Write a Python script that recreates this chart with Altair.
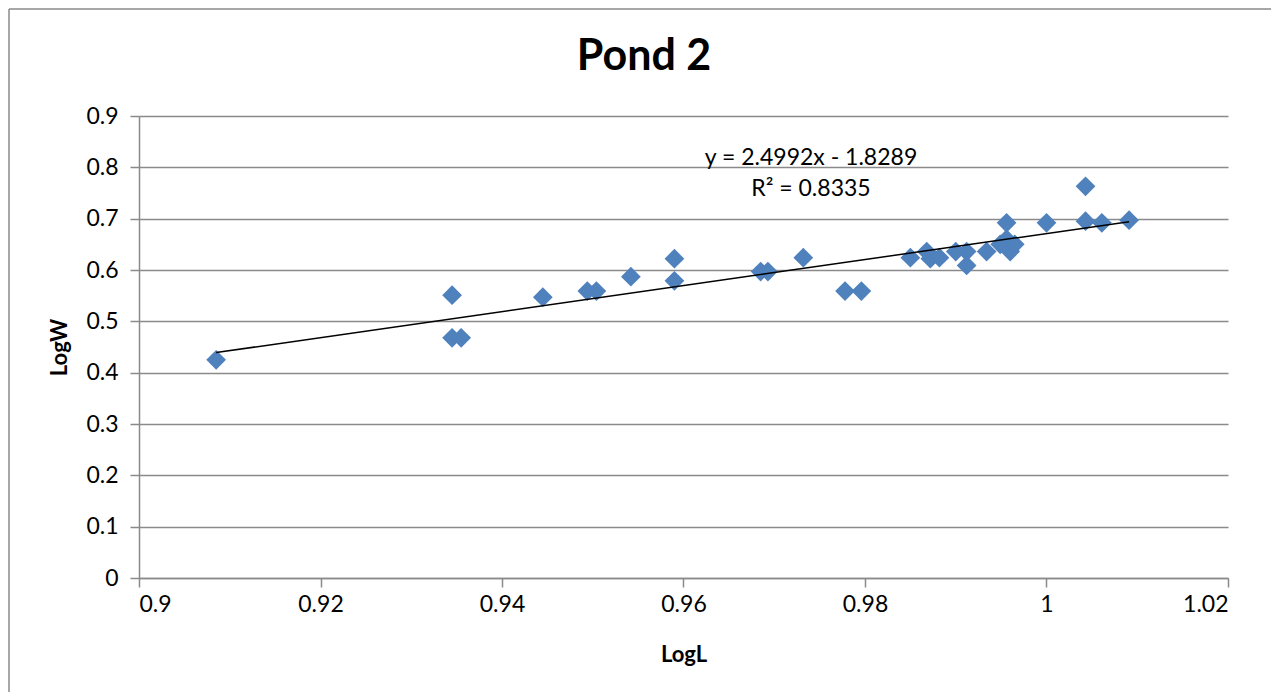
import altair as alt
import pandas as pd

log_l = [0.9085, 0.9345, 0.9345, 0.9355, 0.9445, 0.9494, 0.9504, 0.9542, 0.9590, 0.9590,
         0.9685, 0.9693, 0.9732, 0.9778, 0.9796, 0.9850, 0.9868, 0.9872, 0.9882, 0.9900,
         0.9912, 0.9912, 0.9934, 0.9949, 0.9956, 0.9956, 0.9960, 0.9965, 1.0000, 1.0043,
         1.0043, 1.0061, 1.0091]
log_w = [0.425, 0.551, 0.468, 0.468, 0.547, 0.559, 0.559, 0.587, 0.622, 0.579,
         0.597, 0.597, 0.624, 0.559, 0.559, 0.624, 0.636, 0.622, 0.624, 0.636,
         0.636, 0.609, 0.636, 0.650, 0.692, 0.660, 0.636, 0.650, 0.692, 0.763,
         0.695, 0.692, 0.697]

x_ticks = [0.9, 0.92, 0.94, 0.96, 0.98, 1.0, 1.02]
y_ticks = [0, 0.1, 0.2, 0.3, 0.4, 0.5, 0.6, 0.7, 0.8, 0.9]
chart_title = "Pond 2"
eq_line1 = "y = 2.4992x - 1.8289"
eq_line2 = "R² = 0.8335"

df = pd.DataFrame({"LogL": log_l, "LogW": log_w})

FONT = "Lato"
GRID = "#8a8a8a"

x_enc = alt.X("LogL:Q",
              scale=alt.Scale(domain=[0.9, 1.02], nice=False, zero=False),
              axis=alt.Axis(title="LogL", values=x_ticks, format="~g", grid=False,
                            tickSize=9, labelPadding=6, titleY=76,
                            titleBaseline="middle"))
y_enc = alt.Y("LogW:Q",
              scale=alt.Scale(domain=[0, 0.9], nice=False),
              axis=alt.Axis(title="LogW", values=y_ticks, format="~g", grid=True,
                            tickSize=9, labelPadding=12, titleX=-80, titleY=231,
                            titleAngle=-90, titleAlign="center",
                            titleBaseline="middle"))

points = alt.Chart(df).mark_point(shape="diamond", filled=True, size=390,
                                  color="#4F81BD", opacity=1).encode(x=x_enc, y=y_enc)

trend = alt.Chart(df).transform_regression("LogL", "LogW").mark_line(
    color="black", strokeWidth=1.5).encode(x="LogL:Q", y="LogW:Q")

one = df.head(1)
title_mark = alt.Chart(one).mark_text(font=FONT, fontSize=43, fontWeight="bold",
                                      color="black", align="center",
                                      baseline="alphabetic").encode(
    x=alt.value(505), y=alt.value(-46), text=alt.value(chart_title))
eq1 = alt.Chart(one).mark_text(font=FONT, fontSize=23, color="black",
                               align="center", baseline="alphabetic").encode(
    x=alt.value(672), y=alt.value(49), text=alt.value(eq_line1))
eq2 = alt.Chart(one).mark_text(font=FONT, fontSize=23, color="black",
                               align="center", baseline="alphabetic").encode(
    x=alt.value(672), y=alt.value(80), text=alt.value(eq_line2))

frame_l = alt.Chart(one).mark_rule(color="#8a8a8a", strokeWidth=1.5).encode(
    x=alt.value(-130), y=alt.value(-107), y2=alt.value(700))
frame_t = alt.Chart(one).mark_rule(color="#8a8a8a", strokeWidth=1.5).encode(
    x=alt.value(-130), x2=alt.value(1300), y=alt.value(-107))

chart = alt.layer(frame_l, frame_t, points, trend, eq1, eq2, title_mark).properties(
    width=1089, height=462,
    background="white",
    autosize=alt.AutoSizeParams(type="none"),
    padding={"left": 131, "top": 108, "right": 43, "bottom": 114},
).configure_view(stroke=None).configure_axis(
    labelFont=FONT, labelFontSize=23, labelColor="black",
    titleFont=FONT, titleFontSize=22, titleFontWeight="bold", titleColor="black",
    domainColor=GRID, domainWidth=1.5, tickColor=GRID, tickWidth=1.5,
    gridColor=GRID, gridWidth=1.5, gridOpacity=1,
)

chart.save("out.html", embed_options={"renderer": "svg", "actions": False})
